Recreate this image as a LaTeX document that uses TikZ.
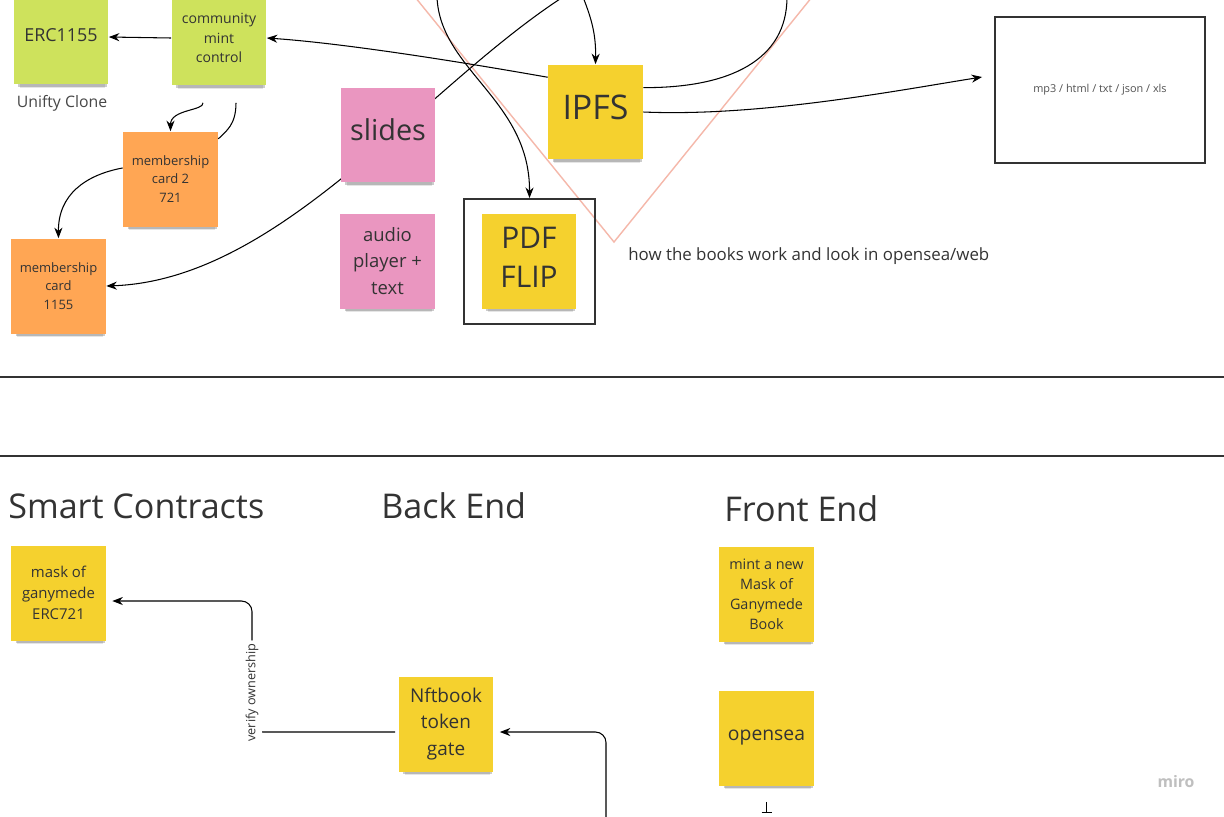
\documentclass[tikz,border=0pt]{standalone}
\usepackage{fontspec}
\setmainfont{Open Sans}
\usetikzlibrary{arrows.meta,shadows,calc}
\definecolor{notegreen}{RGB}{206,226,92}
\definecolor{noteorange}{RGB}{255,166,84}
\definecolor{notepink}{RGB}{234,150,192}
\definecolor{noteyellow}{RGB}{245,209,46}
\definecolor{inkgray}{RGB}{51,51,51}
\definecolor{vpink}{RGB}{245,184,170}
\newcommand{\fsz}[2]{\fontsize{#1}{#2}\selectfont}

\begin{document}
\begin{tikzpicture}[x=0.02cm, y=-0.02cm,
  note/.style={minimum width=1.9cm, minimum height=1.9cm, inner sep=0pt, align=center, text=inkgray,
    drop shadow={shadow xshift=1pt, shadow yshift=-5pt, shadow scale=0.9, opacity=0.1, fill=black},
    drop shadow={shadow xshift=1pt, shadow yshift=-3pt, shadow scale=0.94, opacity=0.2, fill=black}},
  lifted/.style={text depth=#1},
  conn/.style={-{Stealth[length=6pt,width=4.6pt]}, line width=0.6pt, black},
  plainconn/.style={line width=0.6pt, black},
  sepline/.style={line width=0.9pt, inkgray},
  vline/.style={line width=0.8pt, vpink},
  freetext/.style={inner sep=0pt, text=inkgray}]
\useasboundingbox (0,0) rectangle (1224,816);
\fill[white] (0,0) rectangle (1224,816);

\draw[vline] (415,-3) -- (614,242) -- (812,-3);

\node[note, fill=notegreen, font=\fsz{10.2}{13}, lifted=2.3pt] (erc) at (61,37) {ERC1155};
\node[note, fill=notegreen, font=\fsz{8}{11.3}] (cmc) at (219,38) {community\\mint\\control};
\node[freetext, text=inkgray!90, font=\fsz{9}{11}] (unifty) at (62,103) {Unifty Clone};
\node[note, fill=noteorange, font=\fsz{7.4}{10.5}] (mc2) at (170.5,179) {membership\\card 2\\721};
\node[note, fill=noteorange, font=\fsz{7.4}{10.5}] (mc1155) at (58.5,286) {membership\\card\\1155};
\node[note, fill=notepink, font=\fsz{10.5}{15.3}] (audio) at (387.5,261) {audio\\player +\\text};
\node[note, fill=noteyellow, font=\fsz{19.3}{22}, lifted=5.7pt] (ipfs) at (595.5,112) {IPFS};
\node[draw=inkgray, line width=1.1pt, minimum width=2.62cm, minimum height=2.5cm] (frame) at (529.5,261.5) {};
\node[note, fill=noteyellow, font=\fsz{17}{22}, lifted=4.5pt] (pdf) at (529,261.5) {PDF\\FLIP};
\node[freetext, anchor=west, font=\fsz{9.6}{12}] (howbooks) at (628,256) {how the books work and look in opensea/web};
\node[draw=inkgray, line width=1.1pt, minimum width=4.2cm, minimum height=2.92cm, text=inkgray!85, font=\fsz{6.2}{8}] (files) at (1100,90) {mp3 / html / txt / json / xls};

\coordinate (topa) at (437,-3);
\coordinate (topb) at (563,-3);
\coordinate (topc) at (583,-3);
\coordinate (topd) at (787,-3);

\draw[conn] (cmc.west) -- (erc.east);
\draw[conn] (ipfs.144) .. controls (450,60) and (340,43) .. (cmc.east);
\draw[conn] (topc) .. controls (592,20) and (596,35) .. (ipfs.north);
\draw[conn] (topa) .. controls (440,70) and (530,100) .. (frame.north);
\draw[plainconn] (ipfs.27) .. controls (730,88) and (787,60) .. (topd);
\draw[conn] (ipfs.east) .. controls (760,117) and (900,90) .. ($(files.west)+(-12,-13)$);
\draw[conn] ($(cmc.south)+(-16,17)$) .. controls +(1,8) and +(0,-22) .. (mc2.north);
\draw[plainconn] ($(cmc.south)+(17,17)$) .. controls +(0,22) and +(8,-8) .. (mc2.40);
\draw[conn] (mc2.167) .. controls (85,175) and (58,195) .. (mc1155.north);
\draw[conn] (topb) .. controls (420,90) and (280,280) .. (mc1155.east);

\node[note, fill=notepink, font=\fsz{16.4}{20}, lifted=5.7pt] (slides) at (388,135) {slides};

\draw[sepline] (0,377) -- (1224,377);
\draw[sepline] (0,456) -- (1224,456);

\node[freetext, anchor=west, font=\fsz{19.4}{22}] (smart) at (8,506) {Smart Contracts};
\node[freetext, anchor=west, font=\fsz{19.4}{22}] (backend) at (381,506) {Back End};
\node[freetext, anchor=west, font=\fsz{19.4}{22}] (frontend) at (724,509) {Front End};

\node[note, fill=noteyellow, font=\fsz{8.5}{11.9}] (mask) at (58.5,593) {mask of\\ganymede\\ERC721};
\node[note, fill=noteyellow, font=\fsz{10.8}{15.3}] (gate) at (446,724) {Nftbook\\token\\gate};
\node[note, fill=noteyellow, font=\fsz{8.2}{11.3}] (mint) at (766.5,594) {mint a new\\Mask of\\Ganymede\\Book};
\node[note, fill=noteyellow, font=\fsz{11}{14}] (opensea) at (766.5,738) {opensea};

\coordinate (vbend) at (252,732);
\coordinate (gatefeed) at (606,824);
\draw[conn, rounded corners=6] ($(gate.west)+(-3,8)$) -- (vbend) |- node[pos=0.15, rotate=90, fill=white, inner sep=2pt, text=inkgray, font=\fsz{7.2}{9}] {verify ownership} ($(mask.east)+(6,8)$);
\draw[conn, rounded corners=6] (gatefeed) |- ($(gate.east)+(6,8)$);
\draw[plainconn] ($(opensea.south)+(0,16)$) -- ($(opensea.south)+(0,27)$);
\draw[plainconn] ($(opensea.south)+(-5,27)$) -- +(10,0);

\node[freetext, text=black!25, font=\fsz{9}{11}\bfseries] (miro) at (1176,782) {miro};
\end{tikzpicture}
\end{document}
